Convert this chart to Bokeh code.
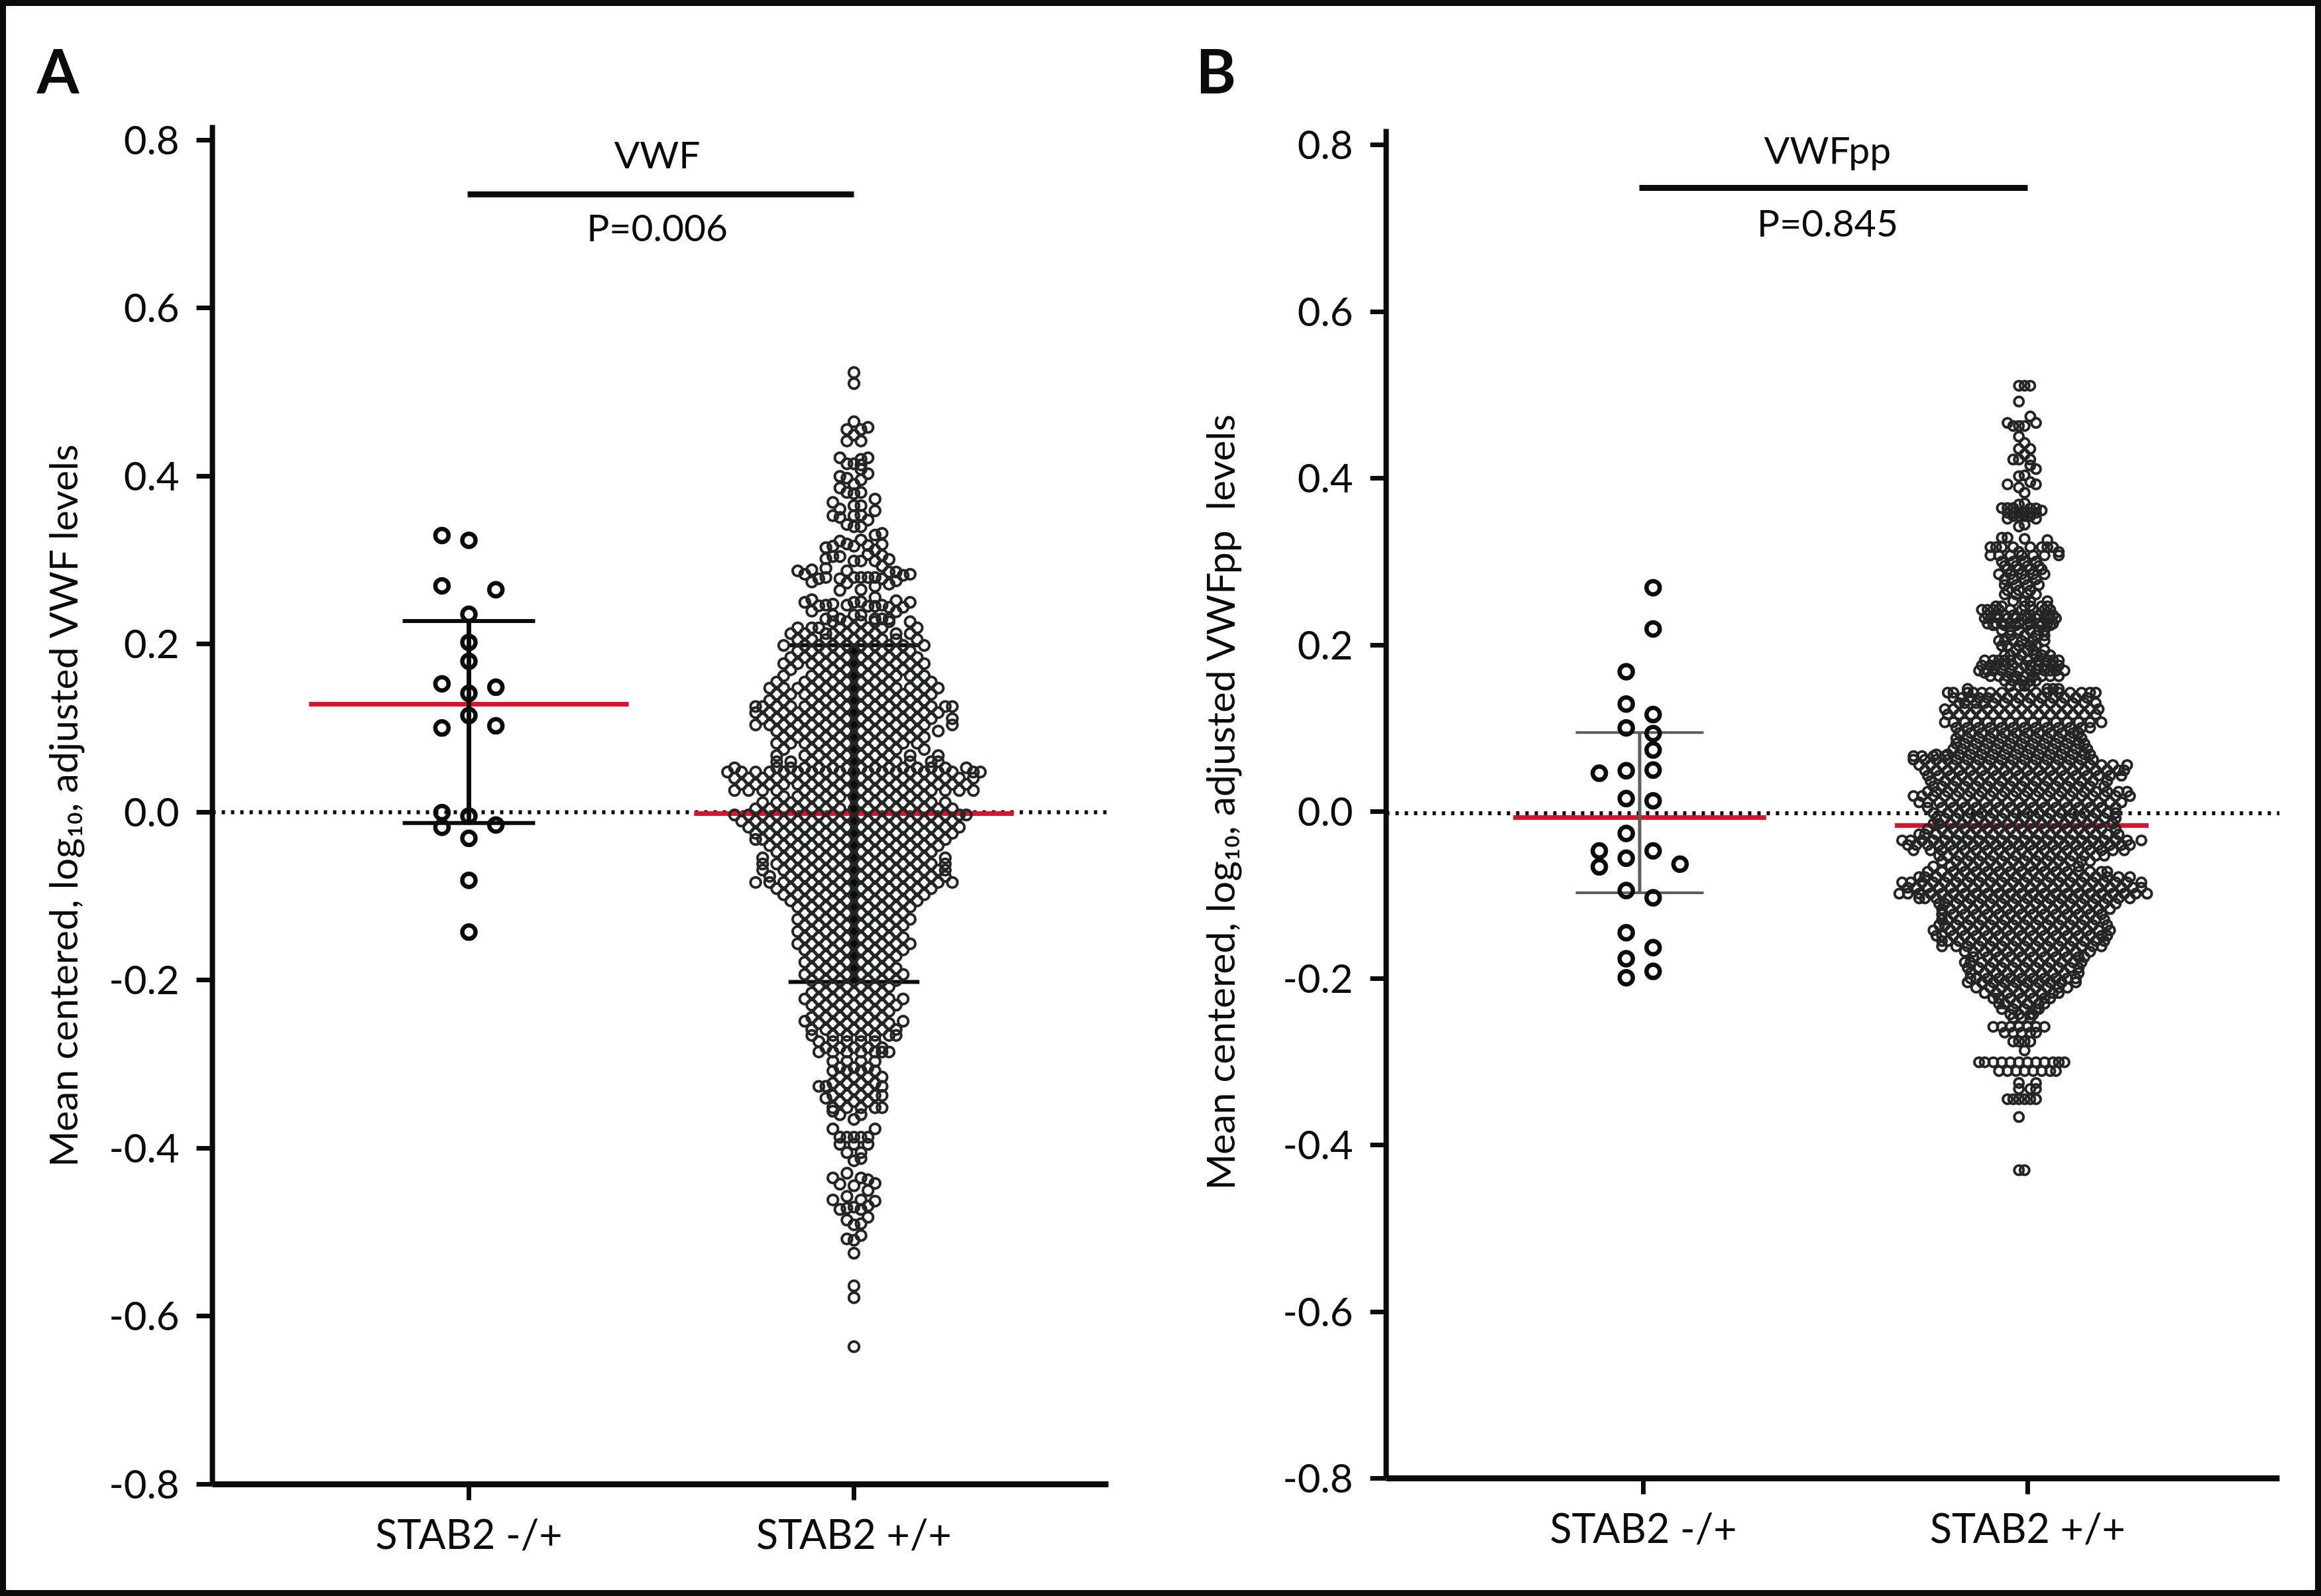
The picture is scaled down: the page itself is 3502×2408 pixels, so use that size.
from bokeh.embed import file_html
from bokeh.resources import INLINE
from bokeh.plotting import figure
from bokeh.layouts import row
from bokeh.core.properties import value
from bokeh.models import FixedTicker, PrintfTickFormatter, Range1d

FONT = "Lato"
BLACK = "#0a0c0b"
RED = "#d8142e"

y_ticks = [-0.8, -0.6, -0.4, -0.2, 0.0, 0.2, 0.4, 0.6, 0.8]
x_ticks = [1, 2]
x_labels = {1: "STAB2 -/+", 2: "STAB2 +/+"}

# Panel A, STAB2 -/+ : value and column of each ring
a_het_y = [.3293, .3236, .2694, .2648, .2356, .2021, .1796, .1528, .1488, .1415, .1151, .1003, .1028,
           -.0004, -.0046, -.0180, -.0152, -.0311, -.0811, -.1427]
a_het_col = [-1, 0, -1, 1, 0, 0, 0, -1, 1, 0, 0, -1, 1, -1, 0, -1, 1, 0, 0, 0]

# Panel B, STAB2 -/+
b_het_y = [.2687, .2192, .1679, .1291, .1165, .1005, .0937, .0739, .0461, .0491, .0499, .0157, .0130, -.0262,
           -.0471, -.0662, -.0559, -.0471, -.0631, -.0947, -.1034, -.1453, -.1632, -.1765, -.1917, -.1993]
b_het_col = [1, 1, -1, -1, 1, -1, 1, 1, -3, -1, 1, -1, 1, -1, -3, -3, -1, 1, 3, -1, 1, -1, 1, -1, 1, -1]

# mean, upper and lower bar of each group
a_means = [.1285, -.0016]
a_upper = [.2275, .1988]
a_lower = [-.0128, -.2020]
b_means = [-.0072, -.0167]
b_upper = [.0948]
b_lower = [-.0973]

# Panel A, STAB2 +/+ : (value, columns on that level)
a_wt_rows = [
(.5233,[0]),(.5102,[0]),(.4647,[0]),(.458,[2]),(.4555,[-1,1]),(.4489,[0]),(.4418,[-1,1]),(.4218,[-2,2]),(.42,[1]),
(.4147,[-1,0]),(.4134,[1]),(.408,[1]),(.4029,[2]),(.3997,[-2]),(.3976,[-1]),(.3955,[1]),(.3903,[0]),(.3858,[-2]),
(.3805,[-1,1]),(.3792,[0]),(.3727,[3]),(.3687,[-3]),(.3648,[0,1]),(.3608,[-2]),(.3587,[3]),(.3529,[-3,0]),(.3534,[1]),
(.3508,[-2]),(.3477,[2]),(.3424,[-1]),(.3398,[0,1]),(.3319,[4]),(.3298,[3]),(.324,[1]),(.3227,[-2]),(.3193,[-1]),
(.3187,[4]),(.3174,[2]),(.3166,[-3,0]),(.3148,[-4]),(.3121,[3]),(.3069,[2]),(.3056,[4]),(.3043,[-3,-2]),(.3016,[-4]),
(.3009,[5]),(.299,[0,1,3]),(.293,[4]),(.2903,[-4]),(.2885,[-6]),(.2872,[-8,-1]),(.2859,[5,6]),(.2832,[-7,8]),(.2819,[7]),
(.2793,[-4,0,1,2,3]),(.2779,[-5,-2,4]),(.274,[-6]),(.2727,[-1]),(.2753,[6]),(.2714,[5]),(.2688,[3]),(.2648,[1]),(.264,[-2]),
(.2556,[3]),(.253,[-6]),(.2517,[6]),(.2504,[1]),(.2498,[-7,0,8]),(.2477,[-3]),(.2464,[-4,-1,4]),(.2456,[-5]),(.2451,[2,3]),
(.2438,[5,7]),(.2393,[-6]),(.2385,[6]),(.2346,[-3,0,1]),(.23,[-4,-2,3,4,5]),(.2267,[-3,-1,1,3,5,8]),
(.2195,[-8,-6,-5,-2,0,2,4,9]),(.2125,[-9,-7,-4,-3,-1,1,3,6,8]),(.2055,[-8,-6,-4,-2,0,2,4,6,9]),
(.1985,[-10,-7,-5,-3,-1,1,3,5,7,10]),(.1915,[-8,-6,-4,-2,0,2,4,6,8]),(.1842,[-9,-7,-5,-3,-1,1,3,5,7,9]),
(.1769,[-10,-8,-6,-4,-2,0,2,4,6,8,10]),(.1696,[-9,-5,-3,-1,1,3,5,7,9]),(.1623,[-10,-6,-4,-2,0,2,4,6,8,10]),
(.155,[-11,-7,-5,-3,-1,1,3,5,9,11]),(.1477,[-12,-10,-8,-6,-4,-2,0,2,4,6,8,10,12]),(.1404,[-11,-9,-7,-5,-3,-1,1,3,5,7,9,11]),
(.1331,[-12,-10,-6,-4,-2,0,2,4,6,8,10]),(.1258,[-14,-13,-11,-9,-7,-5,-3,-1,1,3,5,7,9,11,13,14]),
(.1185,[-14,-12,-10,-8,-6,-4,-2,0,2,4,6,8,10,12]),(.1112,[-13,-11,-9,-7,-5,-3,-1,1,3,5,7,9,11,14]),
(.1039,[-14,-12,-10,-8,-6,-4,-2,0,2,4,6,8,10,14]),(.0966,[-11,-9,-7,-5,-3,-1,1,3,5,7,9,12]),
(.0893,[-10,-8,-6,-4,-2,0,2,4,6,8,10]),(.082,[-11,-9,-7,-5,-3,-1,1,3,5,7,9]),(.0747,[-10,-6,-4,-2,0,2,4,6,10]),
(.0674,[-11,-7,-5,-3,-1,1,3,5,8,12]),(.0601,[-11,-9,-6,-4,-2,0,2,4,6,8,11,12]),
(.0528,[-17,-11,-9,-7,-5,-3,-1,1,3,5,7,9,11,13,16]),(.0478,[-18,-16,-14,-12,-10,-8,-6,-4,-2,0,2,4,6,8,10,12,14,17,18]),
(.0405,[-17,-15,-13,-11,-9,-7,-5,-3,-1,1,3,5,7,9,11,13,15,17]),(.0332,[-16,-14,-12,-10,-8,-6,-4,-2,0,2,4,6,8,10,12,14,16]),
(.0259,[-17,-15,-13,-11,-7,-5,-3,-1,1,3,5,7,9,11,13,15,17]),(.0186,[-10,-8,-6,-4,-2,0,2,4,6,8,10]),
(.0113,[-13,-11,-9,-7,-5,-3,1,3,5,7,9,11,13]),(.004,[-14,-12,-10,-8,-6,-4,-2,0,2,4,6,8,10,12,14]),
(-.0033,[-17,-15,-13,-11,-9,-7,-5,-3,-1,1,3,5,7,9,11,13,15,16]),(-.0106,[-16,-14,-12,-10,-8,-6,-4,-2,0,2,4,6,8,10,12,14]),
(-.0179,[-15,-13,-11,-9,-7,-5,-3,-1,1,3,5,7,9,11,13,15]),(-.0252,[-14,-12,-10,-8,-6,-4,-2,0,2,4,6,8,10,12,14]),
(-.0325,[-14,-13,-11,-9,-7,-5,-3,-1,1,3,5,7,9,11,13]),(-.0398,[-12,-10,-8,-6,-4,-2,0,2,4,6,8,10,12]),
(-.0471,[-11,-9,-7,-5,-3,-1,1,3,5,7,9,11]),(-.0544,[-13,-10,-8,-6,-4,-2,0,2,4,6,8,10,13]),
(-.0617,[-13,-11,-9,-7,-5,-3,-1,1,3,5,7,9,11,13]),(-.069,[-13,-10,-8,-6,-4,-2,0,2,4,6,8,10,12,13]),
(-.0763,[-12,-9,-7,-5,-3,-1,1,3,5,7,9,11,13]),(-.0836,[-14,-12,-10,-8,-6,-4,-2,0,2,4,6,8,10,12,14]),
(-.0909,[-11,-9,-7,-5,-3,-1,1,3,5,7,9,11]),(-.0982,[-10,-8,-6,-4,-2,0,2,4,6,8,10]),(-.1055,[-9,-7,-5,-3,-1,1,3,5,7,9]),
(-.1128,[-8,-6,-4,-2,0,2,4,6,8]),(-.1201,[-7,-5,-3,-1,1,3,5,7]),(-.1274,[-8,-6,-4,-2,0,2,4,6,8]),(-.1347,[-7,-5,-3,-1,1,3,5,7]),
(-.142,[-8,-6,-4,-2,0,2,4,6]),(-.1493,[-7,-5,-3,-1,1,3,5,7]),(-.1566,[-8,-6,-4,-2,0,2,4,6,8]),(-.1639,[-7,-5,-3,-1,1,3,5,7]),
(-.1712,[-6,-4,-2,0,2,4,6]),(-.1785,[-7,-5,-3,-1,1,3,5]),(-.1858,[-6,-4,-2,0,2,4,6]),(-.1931,[-7,-5,-3,-1,1,3,5,7]),
(-.2004,[-6,-4,-2,0,2,4,6]),(-.2077,[-5,-3,-1,1,3,5]),(-.215,[-6,-4,-2,0,2,4]),(-.2223,[-7,-5,-3,-1,1,3,5,7]),
(-.2296,[-6,-4,-2,0,2,4,6]),(-.2369,[-5,-3,-1,1,3,5]),(-.2442,[-6,-4,-2,0,2,4]),(-.2488,[-7,7]),(-.2515,[-5,-3,-1,1,3,5]),
(-.2588,[-6,-4,-2,0,2,4,6]),(-.2657,[-6,-3,-1,1,3,5,6]),(-.273,[-5,-3,-1,1,3]),(-.2803,[-4,-2,0,2,4]),
(-.2854,[-5,-3,-1,1,3,4,5]),(-.2967,[-3,-1,1,3]),(-.304,[-2,0,2]),(-.308,[-3,-1,1,3]),(-.3153,[-2,0,2,4]),(-.3226,[-3,-1,1,3]),
(-.3263,[-5,-4,4]),(-.3299,[-2,0,2]),(-.3372,[-3,-1,1,3,4]),(-.3404,[-4]),(-.3445,[-2,0,2]),(-.3518,[-3,-1,1,3,4]),
(-.3559,[-3]),(-.36,[-2,1]),(-.3657,[0]),(-.377,[-3,3]),(-.3869,[-2,-1,0,1,2]),(-.3953,[-2,0,2]),(-.4052,[-1,1]),
(-.4122,[1]),(-.415,[0]),(-.4297,[-1]),(-.4353,[-3,1]),(-.4376,[2]),(-.4418,[3]),(-.4427,[-2]),(-.4446,[0]),(-.4503,[2]),
(-.4573,[-1]),(-.4615,[-3,1]),(-.4629,[3]),(-.4686,[2]),(-.47,[0]),(-.4714,[-1]),(-.4728,[-2,1]),(-.4821,[2]),(-.4855,[-1]),
(-.4897,[1]),(-.4911,[0]),(-.5038,[1]),(-.508,[-1]),(-.5094,[0]),(-.5249,[0]),(-.5638,[0]),(-.5779,[0]),(-.6362,[0]),
]

# Panel B, STAB2 +/+ : (value, columns on that level)
b_wt_rows = [
(.511,[-1,1,3]),(.492,[-1]),(.4741,[3]),(.4664,[-5,5]),(.4627,[-3,-1,1]),(.45,[-1]),(.4423,[1]),(.4352,[-1,3]),(.4286,[1]),
(.4224,[-3,-1,3]),(.4153,[3]),(.411,[5]),(.4035,[1]),(.4025,[-1]),(.3954,[3]),(.3926,[-5,5]),(.3889,[-1]),(.3826,[1]),
(.3699,[1]),(.3684,[-1]),(.3642,[-7,-5,-3]),(.3639,[3,5]),(.3613,[7]),(.3585,[-5,-3,-1,1,3,5]),(.3545,[-3,-1,1,3]),
(.3514,[-5,5]),(.3443,[1]),(.342,[-1]),(.3287,[-7,-5]),(.3273,[1]),(.3258,[9]),(.3173,[-11,-9,-7,-3,3,7,9,11]),
(.3116,[-1,13]),(.3074,[-11,-8,-4,0,4,8,13]),(.3,[-7,-3,1,5]),(.2946,[-6,-2,2,6]),
(.2906,[-5,-1,3,7]),(.2848,[-8,-4,0,4,8]),(.2786,[-6,-3,1,5]),(.2719,[-6,-2,2,6]),
(.2655,[-5,-1,3]),(.2605,[-6,-2,2,5]),(.2526,[-3,1,3,9]),(.2464,[-9,-7,1,3,7,9]),
(.2421,[-14,-12,-10,-8,-4,0,4,8,10]),(.2356,[-12,-9,-6,-3,1,3,6,9,11]),(.2319,[-13,-11,-8,-5,-2,2,5,8,10,12]),
(.2256,[-12,-9,-7,-4,-1,3,6,9,11]),(.2236,[-10,-6,-2,2,7,10]),(.2175,[-7,-4,-1,3,6,8]),(.2114,[-4,1,5,8]),
(.205,[-8,-6,-3,0,4,8]),(.199,[-7,-5,-1,3,5]),(.1937,[-2,2,4,8]),(.1877,[-6,-4,0,5,7,10]),
(.1815,[-13,-10,-8,-6,-4,-1,2,6,9,11,13]),(.1753,[-14,-11,-9,-6,-3,1,3,6,8,11,13]),
(.1692,[-15,-12,-10,-7,-4,-1,3,5,8,10,12,15]),(.1665,[-13]),(.1625,[-11,-8,-5,-2,1,4,7,10,13]),(.157,[-6,-3,0,3,5]),
(.1508,[-4,-1,1,3]),(.1473,[-19,9,11,13]),(.1427,[-26,-24,-19,-17,-14,-11,-7,-3,1,5,9,13,17,21,24,26]),
(.1365,[-24,-21,-18,-15,-12,-9,-5,-1,3,7,11,15,19,23]),(.1302,[-22,-20,-16,-13,-10,-6,-2,2,6,10,14,18,22,26]),
(.1228,[-27,-24,-20,-16,-12,-8,-4,0,4,8,12,16,20,24,27]),(.1165,[-26,-22,-18,-14,-10,-6,-2,2,6,10,14,18,22,26]),
(.1071,[-27,-24,-20,-16,-12,-8,-4,0,4,8,12,16,20,24,28]),
(.1007,[-23,-19,-15,-11,-7,-3,1,5,9,13,17,21,24]),
(.0943,[-22,-18,-14,-10,-6,-2,2,6,10,14,18,20]),
(.0879,[-23,-19,-15,-11,-7,-3,1,5,9,13,17,21]),
(.0815,[-23,-20,-16,-12,-8,-4,0,4,8,12,16,20,22]),
(.0751,[-24,-21,-17,-13,-9,-5,-1,3,7,11,15,19,23]),
(.0687,[-30,-26,-22,-18,-14,-10,-6,-2,2,6,10,14,18,22,24]),
(.0666,[-38,-35,-31,-27]),
(.0623,[-38,-34,-30,-26,-23,-19,-15,-11,-7,-3,1,5,9,13,17,21,25]),
(.0559,[-36,-32,-28,-24,-20,-16,-12,-8,-4,0,4,8,12,16,20,24,28,32,37]),
(.0495,[-34,-30,-26,-22,-18,-14,-10,-6,-2,2,6,10,14,18,22,26,30,34,36]),
(.0431,[-33,-29,-25,-21,-17,-13,-9,-5,-1,3,7,11,15,19,23,27,31,35]),
(.0367,[-32,-27,-23,-19,-15,-11,-7,-3,1,5,9,13,17,21,25,30]),
(.0303,[-31,-28,-24,-20,-16,-12,-8,-4,0,4,8,12,16,20,24,29]),
(.0239,[-33,-30,-26,-22,-18,-14,-10,-6,-2,2,6,10,14,18,22,26,30,34,37]),
(.0187,[-38,-35,-31,-27,-23,-19,-15,-11,-7,-3,1,5,9,13,17,21,25,29,33,38]),
(.0111,[-36,-33,-29,-25,-21,-17,-13,-9,-5,-1,3,7,11,15,19,23,27,31,35]),
(.0047,[-33,-28,-24,-20,-16,-12,-8,-4,0,4,8,12,16,20,24,28,33]),
(-.0017,[-31,-26,-22,-18,-14,-10,-6,-2,2,6,10,14,18,22,26,30,33]),
(-.0081,[-30,-27,-23,-19,-15,-11,-7,-3,1,5,9,13,17,21,25,29,33]),
(-.0145,[-31,-29,-25,-21,-17,-13,-9,-5,-1,3,7,11,15,19,23,27,32]),
(-.0209,[-33,-28,-24,-20,-16,-12,-8,-4,0,4,8,12,16,20,24,28,33]),
(-.0273,[-36,-34,-30,-26,-22,-18,-14,-10,-6,-2,2,6,10,14,18,22,26,30,34]),
(-.0345,[-42,-39,-35,-31,-27,-23,-19,-15,-11,-7,-3,1,5,9,13,17,21,25,29,33,37,42]),
(-.0401,[-40,-37,-33,-29,-25,-21,-17,-13,-9,-5,-1,3,7,11,15,19,23,27,31,35,38]),
(-.0465,[-38,-32,-28,-24,-20,-16,-12,-8,-4,0,4,8,12,16,20,24,28,32,36]),
(-.0529,[-29,-26,-22,-18,-14,-10,-6,-2,2,6,10,14,18,22,26,29]),
(-.0593,[-28,-23,-19,-15,-11,-7,-3,1,5,9,13,17,21,24]),
(-.0657,[-31,-25,-21,-17,-13,-9,-5,-1,3,7,11,15,20]),
(-.0721,[-33,-28,-24,-20,-16,-12,-8,-4,0,4,8,12,16,20,24,28,30]),
(-.0785,[-36,-34,-30,-26,-22,-18,-14,-10,-6,-2,2,6,10,14,18,22,26,30,34,38]),
(-.0849,[-42,-39,-35,-31,-27,-23,-19,-15,-11,-7,-3,1,5,9,13,17,21,25,29,33,37,42]),
(-.0913,[-40,-37,-33,-29,-25,-21,-17,-13,-9,-5,-1,3,7,11,15,19,23,27,31,35,39,42]),
(-.0984,[-43,-40,-36,-32,-28,-24,-20,-16,-12,-8,-4,0,4,8,12,16,20,24,28,32,36,40,44]),
(-.1041,[-36,-34,-30,-26,-22,-18,-14,-10,-6,-2,2,6,10,14,18,22,26,30,34,38]),
(-.1105,[-29,-27,-23,-19,-15,-11,-7,-3,1,5,9,13,17,21,25,29,33]),
(-.1169,[-28,-25,-21,-17,-13,-9,-5,-1,3,7,11,15,19,23,27,31]),
(-.1233,[-28,-24,-20,-16,-12,-8,-4,0,4,8,12,16,20,24,28]),
(-.1297,[-28,-26,-22,-18,-14,-10,-6,-2,2,6,10,14,18,22,26,29]),
(-.1361,[-29,-27,-23,-19,-15,-11,-7,-3,1,5,9,13,17,21,25,30]),
(-.1425,[-31,-25,-21,-17,-13,-9,-5,-1,3,7,11,15,19,23,27,31]),
(-.1489,[-30,-28,-24,-20,-16,-12,-8,-4,0,4,8,12,16,20,24,28,30]),
(-.1553,[-28,-26,-22,-18,-14,-10,-6,-2,2,6,10,14,18,22,26,29]),
(-.1617,[-28,-23,-19,-15,-11,-7,-3,1,5,9,13,17,21,25,28]),
(-.1681,[-20,-17,-13,-9,-5,-1,3,7,11,15,19,24]),
(-.1745,[-17,-12,-8,-4,0,4,8,12,16,20,22]),
(-.1809,[-20,-18,-14,-10,-6,-2,2,6,10,14,18,21]),
(-.1873,[-19,-15,-11,-7,-3,1,5,9,13,17,20]),
(-.1937,[-18,-13,-9,-5,-1,3,7,11,15,20]),
(-.2001,[-18,-16,-12,-8,-4,0,4,8,12,16,19]),
(-.2049,[-19,-14,-10,-6,-2,2,6,10,14,19]),
(-.2113,[-16,-11,-7,-3,1,5,9,13,16]),
(-.2177,[-13,-9,-5,-1,3,7,11,13]),
(-.2241,[-10,-8,-4,0,4,8,10]),
(-.2305,[-8,-6,-2,2,6,8]),
(-.2369,[-7,-3,1,5,6]),
(-.2433,[-4,-1,3,4]),
(-.2475,[-3,0,3]),
(-.2582,[-10,-7,-4,-1,2,5,8]),(-.2652,[-6,-3,0,3,5]),(-.2759,[-3,-1,1,3]),(-.2866,[1]),
(-.3007,[-15,-13,-10,-7,-4,-1,2,5,8,11,13,15]),(-.3113,[-8,-5,-2,1,4,7,10,12]),(-.3256,[-1,5]),(-.3327,[-1,3,5]),
(-.3451,[-5,-3,-1,1,3,5]),(-.3664,[-1]),(-.4303,[-1,1]),
]


def panel(width, left, right, top, bottom, x_start, x_end, y_end, axis_top, y_label, zero, label_gap, letter, letter_x):
    p = figure(width=width, height=2408, output_backend="svg", toolbar_location=None,
               x_range=Range1d(x_start, x_end), y_range=Range1d(-0.8, y_end),
               min_border_left=left, min_border_right=right, min_border_top=top, min_border_bottom=bottom,
               frame_width=width - left - right, frame_height=2408 - top - bottom,
               background_fill_color=None, border_fill_color=None, outline_line_color=None)
    p.grid.visible = False
    p.title.text = letter
    p.title.text_font = FONT
    p.title.text_font_size = "92px"
    p.title.text_font_style = "bold"
    p.title.text_color = BLACK
    p.title.align = "left"
    p.title.offset = letter_x - left
    p.title.standoff = 55
    ax = p.yaxis[0]
    ax.ticker = FixedTicker(ticks=y_ticks)
    ax.formatter = PrintfTickFormatter(format="%.1f")
    ax.bounds = (-0.8, axis_top)
    ax.axis_line_width = 8
    ax.axis_line_color = BLACK
    ax.major_tick_line_width = 7
    ax.major_tick_line_color = BLACK
    ax.major_tick_out = 24
    ax.major_tick_in = 0
    ax.minor_tick_line_color = None
    ax.major_label_text_font = FONT
    ax.major_label_text_font_size = "60px"
    ax.major_label_text_color = BLACK
    ax.major_label_standoff = 26
    ax.axis_label = y_label
    ax.axis_label_text_font = FONT
    ax.axis_label_text_font_size = "59px"
    ax.axis_label_text_font_style = "normal"
    ax.axis_label_text_color = BLACK
    ax.axis_label_standoff = label_gap
    bx = p.xaxis[0]
    bx.ticker = FixedTicker(ticks=x_ticks)
    bx.major_label_overrides = x_labels
    bx.axis_line_width = 9
    bx.axis_line_color = BLACK
    bx.major_tick_line_width = 7
    bx.major_tick_line_color = BLACK
    bx.major_tick_out = 24
    bx.major_tick_in = 0
    bx.minor_tick_line_color = None
    bx.major_label_text_font = FONT
    bx.major_label_text_font_size = "61px"
    bx.major_label_text_color = BLACK
    bx.major_label_standoff = 13
    p.line([x_start, x_end], [zero, zero], line_color=BLACK, line_width=6, line_dash="5 9")
    return p


def note(p, x, y, text, size="57px"):
    p.text([x], [y], text=[text], text_font=value(FONT), text_font_size=size, text_color=BLACK,
           text_align="center", text_baseline="alphabetic")


def bars(p, x, mean, half_mean, upper=None, lower=None, half_cap=None, color=BLACK, stem=7, cap=6):
    p.line([x - half_mean, x + half_mean], [mean, mean], line_color=RED, line_width=7)
    if upper is not None:
        p.line([x, x], [lower, upper], line_color=color, line_width=stem)
        for v in (upper, lower):
            p.line([x - half_cap, x + half_cap], [v, v], line_color=color, line_width=cap)


def rings(p, x, step, cols, ys, size, width, color):
    p.scatter([x + c * step for c in cols], ys, marker="circle", size=size,
              fill_alpha=0, line_color=color, line_width=width)


def flat(rows):
    return [c for _, cs in rows for c in cs], [v for v, cs in rows for _ in cs]


# ---- Panel A ----
pa = panel(1751, 320, 79, 188, 169, .3339, 2.6609, .818, .818,
           "Mean centered, log₁₀, adjusted VWF levels", 0.0, 31, "A", 55)
bars(pa, 1, a_means[0], .415, a_upper[0], a_lower[0], .172)
bars(pa, 2, a_means[1], .415, a_upper[1], a_lower[1], .170, stem=12)
rings(pa, 1, .07, a_het_col, a_het_y, 20, 6.5, BLACK)
cols, ys = flat(a_wt_rows)
rings(pa, 2, .01824, cols, ys, 15.5, 4, "#232625")
pa.line([.9966, 2], [.7353, .7353], line_color=BLACK, line_width=9)
note(pa, 1.489, .7835, "VWF")
note(pa, 1.489, .6967, "P=0.006")

# ---- Panel B ----
pb = panel(1751, 340, 63, 188, 178, .3310, 2.6552, .8239, .819,
           "Mean centered, log₁₀, adjusted VWFpp\u00a0 levels", -0.002, 56, "B", 53)
bars(pb, .9905, b_means[0], .329, b_upper[0], b_lower[0], .1664, color="#5a5f5d", stem=5, cap=4)
bars(pb, 1.9845, b_means[1], .33)
rings(pb, .9905, .035, b_het_col, b_het_y, 20, 6.5, BLACK)
cols, ys = flat(b_wt_rows)
rings(pb, 1.9845, .00741, cols, ys, 14, 4, "#232625")
pb.line([.9897, 2], [.7483, .7483], line_color=BLACK, line_width=9)
note(pb, 1.4793, .7945, "VWFpp")
note(pb, 1.4793, .707, "P=0.845")

page = row(pa, pb, styles={"outline": f"9px solid {BLACK}", "outline-offset": "-9px"})
open("out.html", "w").write(file_html(page, INLINE))
